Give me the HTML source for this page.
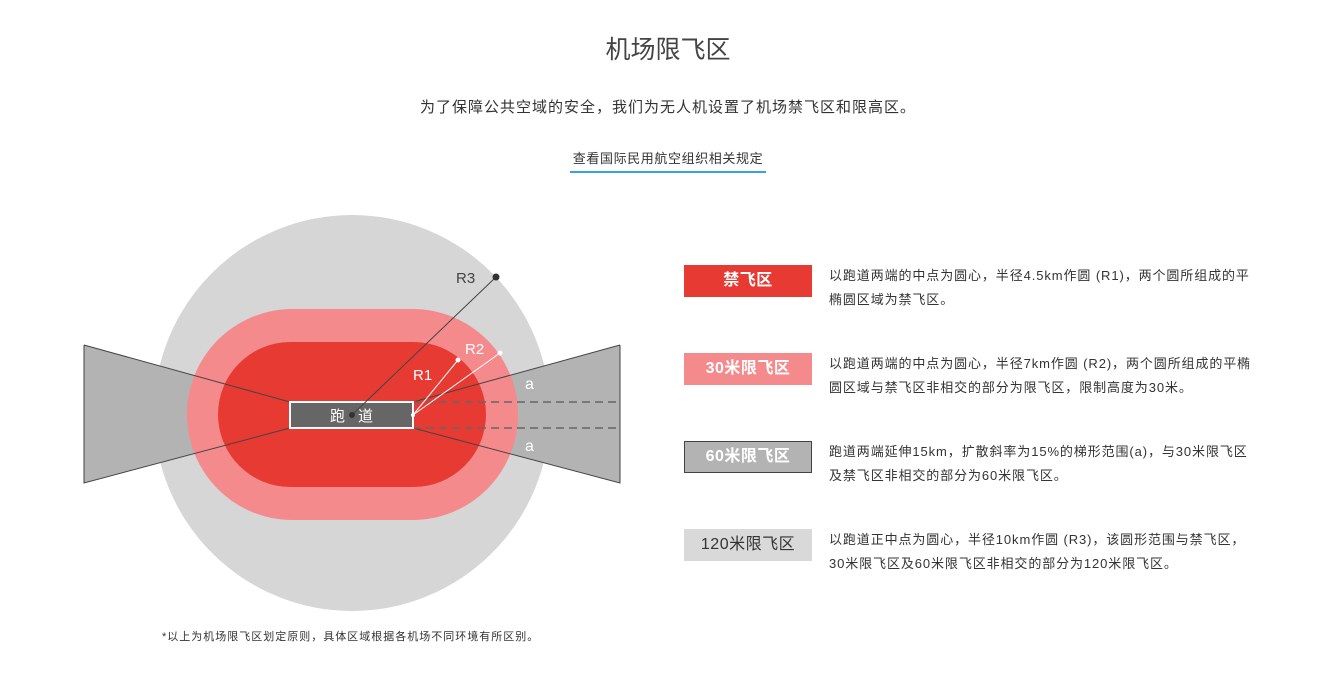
<!DOCTYPE html>
<html><head><meta charset="utf-8"><style>
body{margin:0;width:1318px;height:692px;background:#fff;position:relative;overflow:hidden;font-family:"Liberation Sans","Noto Sans CJK SC",sans-serif;color:#333}
.a{position:absolute;white-space:nowrap}
.box{position:absolute;left:684px;width:128px;height:32px;line-height:32px;text-align:center;font-size:16px;font-weight:bold;color:#fff;box-sizing:border-box;letter-spacing:0.5px}
.d{position:absolute;left:829px;font-size:13px;line-height:24px;color:#333;white-space:nowrap;letter-spacing:0.9px}
</style></head><body>
<div class="a" style="left:0;width:1336px;text-align:center;top:30px;font-size:25px;color:#444">机场限飞区</div>
<div class="a" style="left:0;width:1336px;text-align:center;top:96px;font-size:15px;color:#333;letter-spacing:1px">为了保障公共空域的安全，我们为无人机设置了机场禁飞区和限高区。</div>
<div class="a" style="left:570px;width:196px;text-align:center;top:148px;font-size:13px;color:#333;letter-spacing:0.6px">查看国际民用航空组织相关规定</div>
<div class="a" style="left:570px;width:196px;top:171px;height:2px;background:#3a9ee8"></div>
<svg class="a" style="left:0;top:0" width="700" height="692">
<circle cx="352" cy="413" r="198" fill="#d6d6d6"/>
<polygon points="84,345 290,402 290,428 84,483" fill="#b3b3b3"/>
<polygon points="620,345 413,402 413,428 620,483" fill="#b3b3b3"/>
<rect x="187" y="309" width="331" height="211" rx="105.5" fill="#f48a8c"/>
<rect x="218" y="342" width="268" height="145" rx="72.5" fill="#e63a33"/>
<polyline points="84,345 290,402 290,428 84,483 84,345" fill="none" stroke="#444" stroke-width="1"/>
<polyline points="620,345 413,402 413,428 620,483 620,345" fill="none" stroke="#444" stroke-width="1"/>
<line x1="413" y1="402" x2="620" y2="402" stroke="#666" stroke-width="1.5" stroke-dasharray="8,5"/>
<line x1="413" y1="428" x2="620" y2="428" stroke="#666" stroke-width="1.5" stroke-dasharray="8,5"/>
<rect x="290" y="402" width="123" height="26" fill="#666" stroke="#fff" stroke-width="2"/>
<text x="330" y="421" font-size="15" fill="#fff" font-family="Noto Sans CJK SC">跑</text>
<text x="358" y="421" font-size="15" fill="#fff" font-family="Noto Sans CJK SC">道</text>
<line x1="352" y1="415" x2="496" y2="277" stroke="#444" stroke-width="1"/>
<circle cx="352" cy="415" r="3" fill="#333"/><circle cx="496" cy="277" r="3.5" fill="#333"/>
<line x1="413" y1="415" x2="458" y2="360" stroke="#fff" stroke-width="1"/>
<line x1="413" y1="415" x2="500" y2="353" stroke="#fff" stroke-width="1"/>
<circle cx="458" cy="360" r="2.5" fill="#fff"/><circle cx="500" cy="353" r="2.5" fill="#fff"/><circle cx="413" cy="415" r="2" fill="#fff"/>
<text x="456" y="283" font-size="15" fill="#444">R3</text>
<text x="413" y="380" font-size="15" fill="#fff">R1</text>
<text x="465" y="354" font-size="15" fill="#fff">R2</text>
<text x="525" y="389" font-size="16" fill="#fff">a</text>
<text x="525" y="451" font-size="16" fill="#fff">a</text>
</svg>
<div class="a" style="left:162px;top:628px;font-size:11px;color:#333;letter-spacing:1px">*以上为机场限飞区划定原则，具体区域根据各机场不同环境有所区别。</div>
<div class="box" style="top:265px;background:#e63a33">禁飞区</div>
<div class="d" style="top:264px">以跑道两端的中点为圆心，半径4.5km作圆 (R1)，两个圆所组成的平<br>椭圆区域为禁飞区。</div>
<div class="box" style="top:353px;background:#f48a8c">30米限飞区</div>
<div class="d" style="top:352px">以跑道两端的中点为圆心，半径7km作圆 (R2)，两个圆所组成的平椭<br>圆区域与禁飞区非相交的部分为限飞区，限制高度为30米。</div>
<div class="box" style="top:441px;background:#b3b3b3;border:1px solid #444;line-height:30px">60米限飞区</div>
<div class="d" style="top:440px">跑道两端延伸15km，扩散斜率为15%的梯形范围(a)，与30米限飞区<br>及禁飞区非相交的部分为60米限飞区。</div>
<div class="box" style="top:529px;background:#d9d9d9;color:#333;font-weight:normal">120米限飞区</div>
<div class="d" style="top:528px">以跑道正中点为圆心，半径10km作圆 (R3)，该圆形范围与禁飞区，<br>30米限飞区及60米限飞区非相交的部分为120米限飞区。</div>
</body></html>
